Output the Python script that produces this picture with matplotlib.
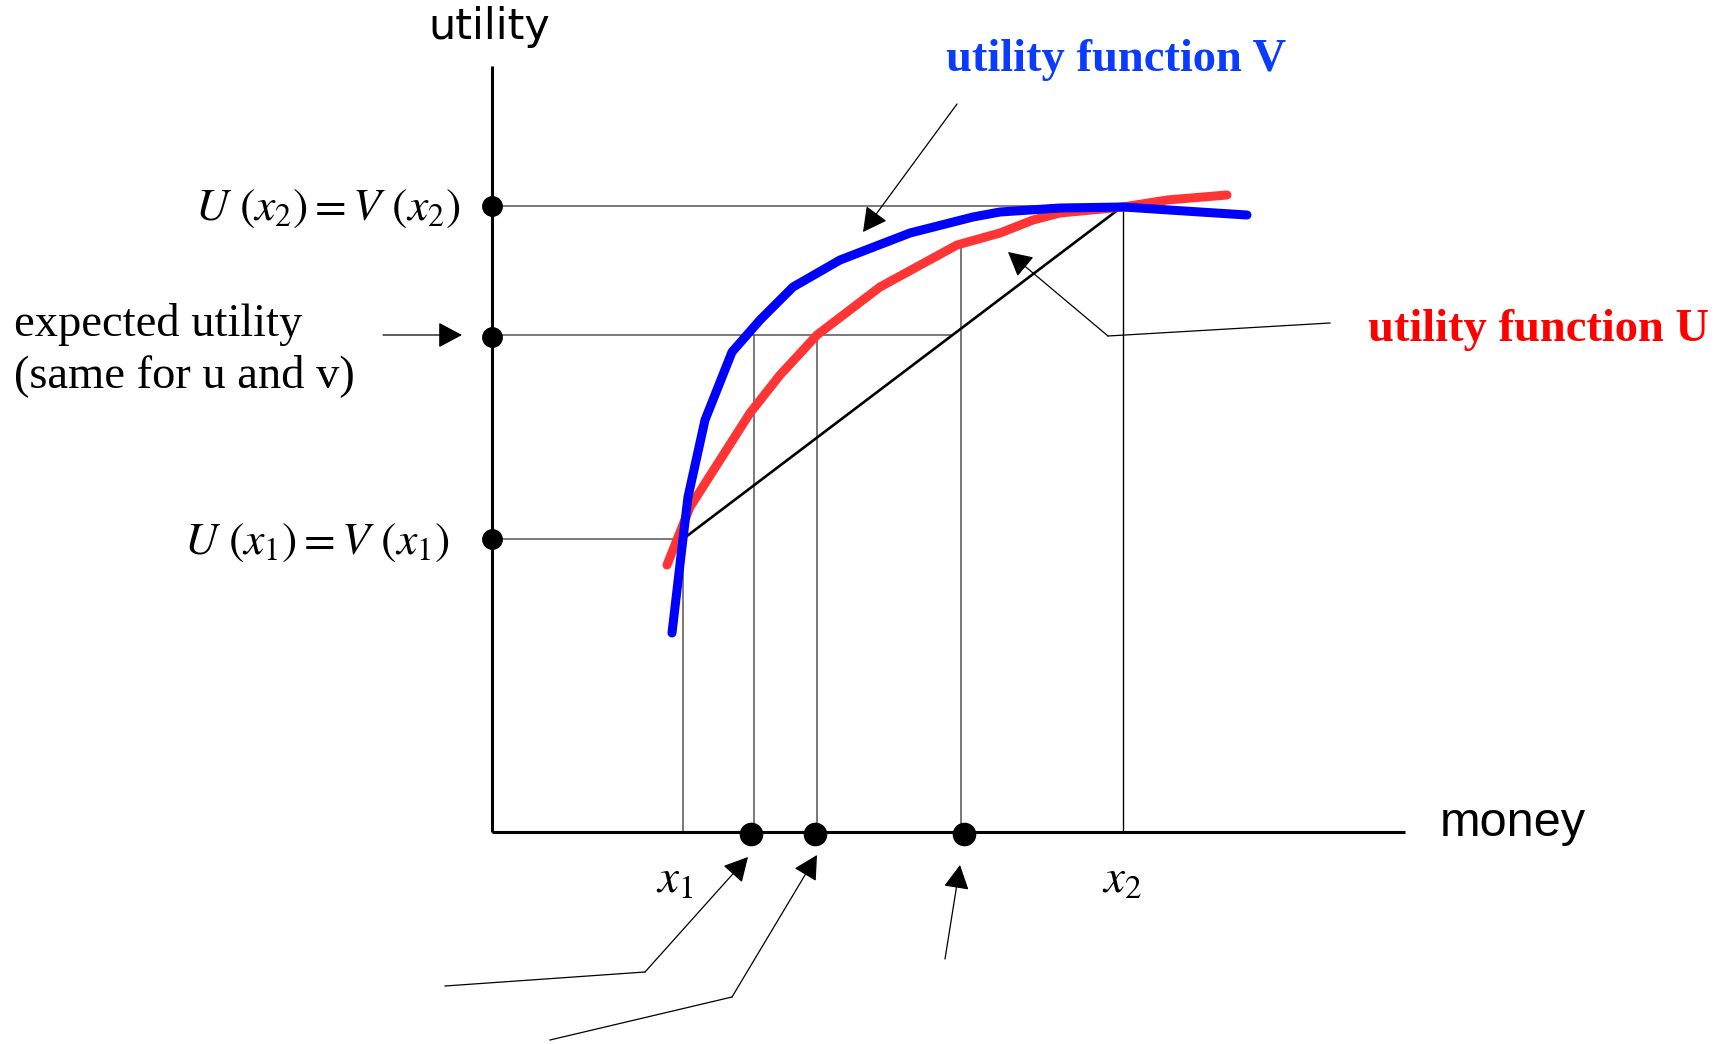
import numpy as np
import matplotlib
matplotlib.use("Agg")
import matplotlib.pyplot as plt

plt.rcParams['mathtext.fontset'] = 'stix'

# money / utility (arbitrary units, origin at the axes corner)
x1, x2 = 1.91, 6.31
u1, u2 = 2.93, 6.26
eu = 4.97
ce_v, ce_u, ev = 2.62, 3.25, 4.69   # certainty equivalents and expected value
u_at_ev = 5.89

red_x = [1.75, 1.98, 2.28, 2.58, 2.88, 3.25, 3.88, 4.65, 5.08, 5.41, 5.68, 6.31, 6.75, 7.35]
red_y = [2.67, 3.25, 3.72, 4.19, 4.57, 4.97, 5.45, 5.87, 5.99, 6.12, 6.19, 6.25, 6.32, 6.37]

blue_x = [1.80, 1.90, 1.96, 2.13, 2.40, 2.68, 3.01, 3.48, 4.18, 4.81, 5.08, 5.68, 6.31, 7.08, 7.55]
blue_y = [1.99, 2.85, 3.35, 4.12, 4.80, 5.12, 5.45, 5.72, 5.99, 6.15, 6.20, 6.24, 6.25, 6.20, 6.17]

fig = plt.figure(figsize=(17.28, 10.44), dpi=100)
ax = fig.add_axes([0, 0, 1, 1])
ax.set_xlim(-4.92, 12.36)
ax.set_ylim(-2.12, 8.32)
ax.axis('off')

grey = '#555555'
# guide lines
ax.plot([0, x2], [u2, u2], color=grey, lw=1.1)
ax.plot([0, 4.60], [eu, eu], color=grey, lw=1.1)
ax.plot([0, x1], [u1, u1], color=grey, lw=1.1)
ax.plot([x1, x1], [0, u1], color=grey, lw=1.1)
ax.plot([ce_v, ce_v], [0, eu], color=grey, lw=1.1)
ax.plot([ce_u, ce_u], [0, eu], color=grey, lw=1.1)
ax.plot([ev, ev], [0, u_at_ev], color=grey, lw=1.1)
ax.plot([x2, x2], [0, u2], color='black', lw=1.0)

# axes
ax.plot([0, 0], [0, 7.66], color='black', lw=2.2, solid_capstyle='butt')
ax.plot([0, 9.13], [0, 0], color='black', lw=2.2, solid_capstyle='butt')

# chord
ax.plot([x1, x2], [u1, u2], color='black', lw=1.9)

# curves
ax.plot(red_x, red_y, color='#ff3535', lw=6.5, solid_capstyle='round', solid_joinstyle='round')
ax.plot(blue_x, blue_y, color='#0000ff', lw=6.5, solid_capstyle='round', solid_joinstyle='round')

# dots
ax.plot([0, 0, 0], [u2, 4.95, u1], 'o', color='black', ms=14)
ax.plot([2.59, 3.23, 4.72], [-0.02, -0.02, -0.02], 'o', color='black', ms=16)

arrow = dict(arrowstyle='-|>,head_length=0.75,head_width=0.4', color='black',
             lw=0.9, mutation_scale=20, shrinkA=0, shrinkB=0)

def pointer(xs, ys):
    ax.plot(xs[:-1], ys[:-1], color='black', lw=0.9)
    ax.annotate('', xy=(xs[-1], ys[-1]), xytext=(xs[-2], ys[-2]), arrowprops=arrow)

pointer([4.65, 3.71], [7.28, 6.00])
pointer([8.38, 6.16, 5.16], [5.09, 4.96, 5.80])
pointer([-1.09, -0.30], [4.97, 4.97])
pointer([-0.47, 1.53, 2.56], [-1.54, -1.40, -0.25])
pointer([0.58, 2.40, 3.25], [-2.08, -1.65, -0.23])
pointer([4.53, 4.68], [-1.27, -0.33])

# text
ax.text(-0.03, 8.05, 'utility', fontsize=31, family='DejaVu Sans', ha='center', va='center')
ax.text(10.21, 0.08, 'money', fontsize=35, family='Liberation Sans', ha='center', va='center')

ax.text(-0.31, 6.25, r'$U\ (x_2) = V\ (x_2)$', fontsize=33, ha='right', va='center')
ax.text(-0.42, 2.90, r'$U\ (x_1) = V\ (x_1)$', fontsize=33, ha='right', va='center')
ax.text(1.83, -0.48, r'$x_1$', fontsize=34, ha='center', va='center')
ax.text(6.30, -0.48, r'$x_2$', fontsize=34, ha='center', va='center')

ax.text(-4.78, 5.07, 'expected utility', fontsize=33.5, family='Liberation Serif', ha='left', va='center')
ax.text(-4.78, 4.56, '(same for u and v)', fontsize=33.5, family='Liberation Serif', ha='left', va='center')

ax.text(6.24, 7.72, 'utility function V', fontsize=33.5, family='Liberation Serif',
        weight='bold', color='#0a3cff', ha='center', va='center')
ax.text(10.47, 5.02, 'utility function U', fontsize=33.5, family='Liberation Serif',
        weight='bold', color='#ff0000', ha='center', va='center')

fig.savefig('out.png', dpi=100)
